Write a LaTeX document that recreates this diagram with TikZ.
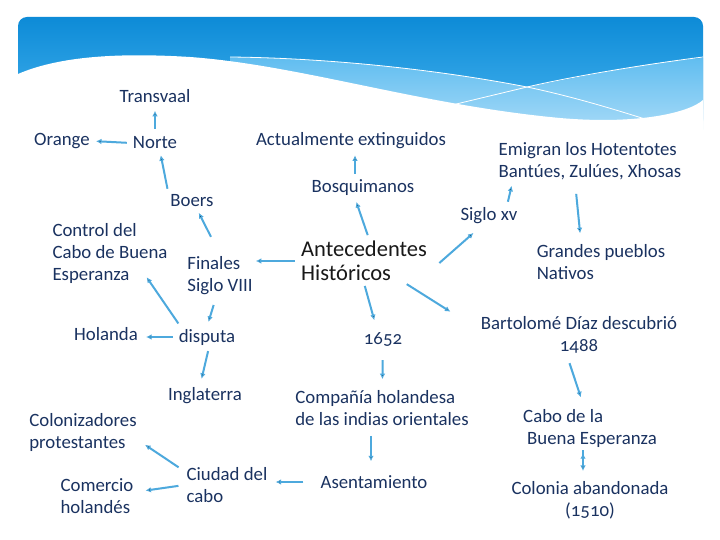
\documentclass[tikz,border=0pt]{standalone}
\usepackage{fontspec}
\setmainfont{Carlito}[Numbers=OldStyle]
\usepackage{tikz}
\usetikzlibrary{arrows.meta}

\definecolor{textnavy}{HTML}{1A3260}
\definecolor{arrowblue}{HTML}{4DA9DD}
\definecolor{hdtop}{HTML}{0D8BD7}
\definecolor{hdbottom}{HTML}{48B4EF}
\definecolor{bandtop}{HTML}{60BDF0}
\definecolor{bandbottom}{HTML}{A6DAF7}

\tikzset{
  lbl/.style={text=textnavy, font=\fontsize{18.8}{22}\selectfont, inner sep=2pt},
  title/.style={text=black!90, font=\fontsize{22.5}{24}\selectfont, inner sep=2pt, align=left},
  arr/.style={draw=arrowblue, line width=2pt, -{Latex[length=5.5pt,width=5.5pt]},
    shorten <=4pt, shorten >=4pt}
}

\begin{document}
\begin{tikzpicture}[x=1pt,y=-1pt]
    \useasboundingbox (0,0) rectangle (720,540);
    \fill[white] (0,0) rectangle (720,540);
    % header band
    \shade[top color=hdtop, bottom color=hdbottom, rounded corners=9pt]
      (18,130) -- (18,17) -- (703,17) -- (703,130) -- cycle;
    \shade[top color=bandtop, bottom color=bandbottom]
      (230,57) .. controls (330,58) and (440,70) .. (527,87)
      .. controls (590,75) and (650,62) .. (703,58) -- (703,130) -- (230,130) -- cycle;
    \draw[white, line width=0.8pt] (230,57) .. controls (330,58) and (440,70) .. (527,87)
      .. controls (570,96) and (610,108) .. (645,119);
    \draw[white, line width=0.8pt] (703,57) .. controls (640,65) and (570,77) .. (527,87)
      .. controls (490,96) and (460,103) .. (440,108);
    \fill[white] (18,74) .. controls (55,58) and (110,52) .. (190,57)
      .. controls (300,65) and (420,105) .. (560,118)
      .. controls (640,125) and (690,112) .. (703,100) -- (704,140) -- (17,140) -- cycle;

    \node[title] (antec) at (364,261) {Antecedentes\\Históricos};
    % left side
    \node[lbl] (transvaal) at (155,96) {Transvaal};
    \node[lbl] (orange) at (62,141) {Orange};
    \node[lbl] (norte) at (155,143) {Norte};
    \node[lbl] (boers) at (192,201) {Boers};
    \node[lbl,align=left] (control) at (110,253) {Control del\\Cabo de Buena\\Esperanza};
    \node[lbl,align=left] (finales) at (220,276) {Finales\\Siglo VIII};
    \node[lbl] (holanda) at (106,334) {Holanda};
    \node[lbl] (disputa) at (207,337) {disputa};
    \node[lbl] (inglaterra) at (205,396) {Inglaterra};
    \node[lbl,align=left] (coloniz) at (83,432) {Colonizadores\\protestantes};
    \node[lbl,align=left] (ciudad) at (227,485) {Ciudad del\\cabo};
    \node[lbl,align=left] (comercio) at (97,496) {Comercio\\holandés};
    % middle
    \node[lbl] (actual) at (351,141) {Actualmente extinguidos};
    \node[lbl] (bosq) at (363,188) {Bosquimanos};
    \node[lbl] (n1652) at (383,339) {1652};
    \node[lbl,align=left] (compania) at (382,408) {Compañía holandesa\\de las indias orientales};
    \node[lbl] (asent) at (374,482) {Asentamiento};
    % right side
    \node[lbl] (siglo) at (489,216) {Siglo xv};
    \node[lbl,align=left] (emigran) at (590,161) {Emigran los Hotentotes\\Bantúes, Zulúes, Xhosas};
    \node[lbl,align=left] (grandes) at (601,262) {Grandes pueblos\\Nativos};
    \node[lbl,align=center] (bartolome) at (579,335) {Bartolomé Díaz descubrió\\1488};
    \node[lbl,align=left] (cabo) at (590,428) {Cabo de la\\\hspace*{4pt}Buena Esperanza};
    \node[lbl,align=center] (colonia) at (590,500) {Colonia abandonada\\(1510)};

    \path[arr]
    % left branch
    (antec.west) edge [shorten >=1pt] (antec.west -| finales.east)
    ([xshift=-4pt]finales.south) edge [shorten <=8pt, shorten >=5pt] (disputa.north)
    (finales.north) edge [shorten <=20pt] ([xshift=5pt]boers.south)
    (boers.north west) edge ([xshift=5pt]norte.south)
    (norte) edge [shorten <=6pt, shorten >=6pt] (transvaal)
    (norte.west) edge (orange.east)
    ([xshift=4pt]disputa.north west) edge [shorten >=0pt] ([shift={(-23pt,8pt)}]control.south east)
    (disputa.west) edge [shorten >=6pt] (disputa.west -| holanda.east)
    ([xshift=2pt]disputa.south) edge [shorten >=7pt] ([xshift=-5pt]inglaterra.north)
    % middle branch
    ([xshift=5pt]antec.north) edge ([xshift=-8pt]bosq.south)
    ([xshift=-8pt]bosq.north) edge ([xshift=4pt]actual.south)
    (antec.south) edge [shorten <=3pt, shorten >=10pt] ([xshift=-6pt]n1652.north)
    (n1652) edge [shorten <=12pt, shorten >=9pt] (compania)
    ([xshift=-11pt]compania.south) edge [shorten <=8pt, shorten >=12pt] ([xshift=-3pt]asent.north)
    (asent.west) edge [shorten <=15pt, shorten >=6pt] (asent.west -| ciudad.east)
    ([yshift=-6pt]ciudad.north west) edge [shorten <=7pt, shorten >=5pt] ([shift={(2pt,-10pt)}]coloniz.east)
    (ciudad.west) edge [shorten <=6pt, shorten >=10pt] ([yshift=4pt]comercio.east)
    % right branch
    ([shift={(8pt,-4pt)}]antec.east) edge [shorten <=3pt, shorten >=10pt] ([xshift=-8pt]siglo.south)
    ([xshift=18pt]siglo.north) edge ([xshift=16pt]emigran.south west)
    ([xshift=-15pt]emigran.south) edge [shorten <=12pt, shorten >=9pt] ([xshift=-20pt]grandes.north)
    ([xshift=-24pt]antec.south east) edge [shorten <=2pt, shorten >=5pt] ([xshift=-24pt]bartolome.north west)
    ([xshift=-12pt]bartolome.south) edge [shorten <=8pt, shorten >=10pt] ([xshift=-6pt]cabo.north)
    ([xshift=-7pt]cabo.south) edge [shorten <=1pt, shorten >=8pt] ([xshift=-7pt]colonia.north);
\end{tikzpicture}
\end{document}
